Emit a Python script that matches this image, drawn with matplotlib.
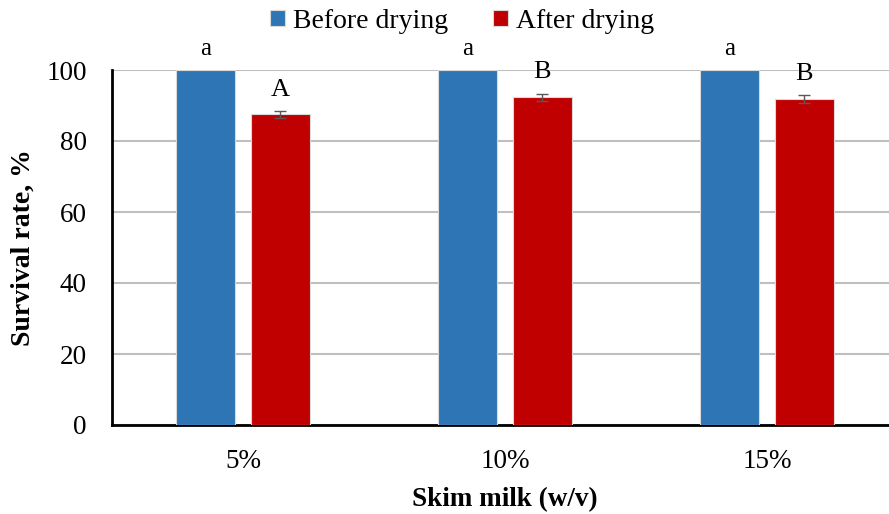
import numpy as np
import matplotlib.pyplot as plt

plt.rcParams['font.family'] = ['Liberation Serif', 'DejaVu Serif']

# --- 数据 ---
categories = ['5%', '10%', '15%']
before = [100, 100, 100]
after = [87.5, 92.3, 91.9]
after_err = [1.0, 1.0, 1.1]
before_letters = ['a', 'a', 'a']
after_letters = ['A', 'B', 'B']

fig = plt.figure(figsize=(8.89, 5.14), dpi=100)
ax = fig.add_axes([112 / 889, 89 / 514, 786 / 889, 355 / 514])

x = np.arange(len(categories))
w = 0.225
off = 0.142
ax.bar(x - off, before, w, color='#2E75B6', edgecolor='#D9D9D9', linewidth=0.8,
       label='Before drying', zorder=3)
ax.bar(x + off, after, w, color='#C00000', edgecolor='#D9D9D9', linewidth=0.8,
       label='After drying', zorder=3)
ax.errorbar(x + off, after, yerr=after_err, fmt='none', ecolor='#595959',
            elinewidth=1, capsize=4, capthick=1, zorder=4)

for i in range(len(categories)):
    ax.text(x[i] - off, before[i] + 6, before_letters[i], ha='center', va='center',
            fontsize=18, clip_on=False)
    ax.text(x[i] + off, after[i] + after_err[i] + 6, after_letters[i], ha='center',
            va='center', fontsize=19, clip_on=False)

ax.set_xlim(-0.5, 2.5)
ax.set_ylim(0, 100)
ax.set_yticks(range(0, 101, 20))
ax.yaxis.grid(True, color='#BFBFBF', linewidth=1.5, zorder=0)
ax.set_axisbelow(True)
ax.set_xticks(x)
ax.set_xticklabels(categories)
ax.tick_params(axis='both', length=0, labelsize=19.5)
ax.tick_params(axis='y', pad=18)
ax.tick_params(axis='x', pad=17)
for s in ['top', 'right']:
    ax.spines[s].set_visible(False)
ax.spines['left'].set_linewidth(2)
ax.spines['bottom'].set_linewidth(2)

ax.set_ylabel('Survival rate, %', fontsize=20, fontweight='bold', labelpad=8)
ax.set_xlabel('Skim milk (w/v)', fontsize=19.5, fontweight='bold', labelpad=10)

fig.legend(loc='upper center', bbox_to_anchor=(462 / 889, 1.01), ncol=2, frameon=False,
           fontsize=20, handlelength=0.55, handleheight=0.55, handletextpad=0.3,
           columnspacing=1.6, borderaxespad=0.1)

fig.savefig('out.png', dpi=100)
